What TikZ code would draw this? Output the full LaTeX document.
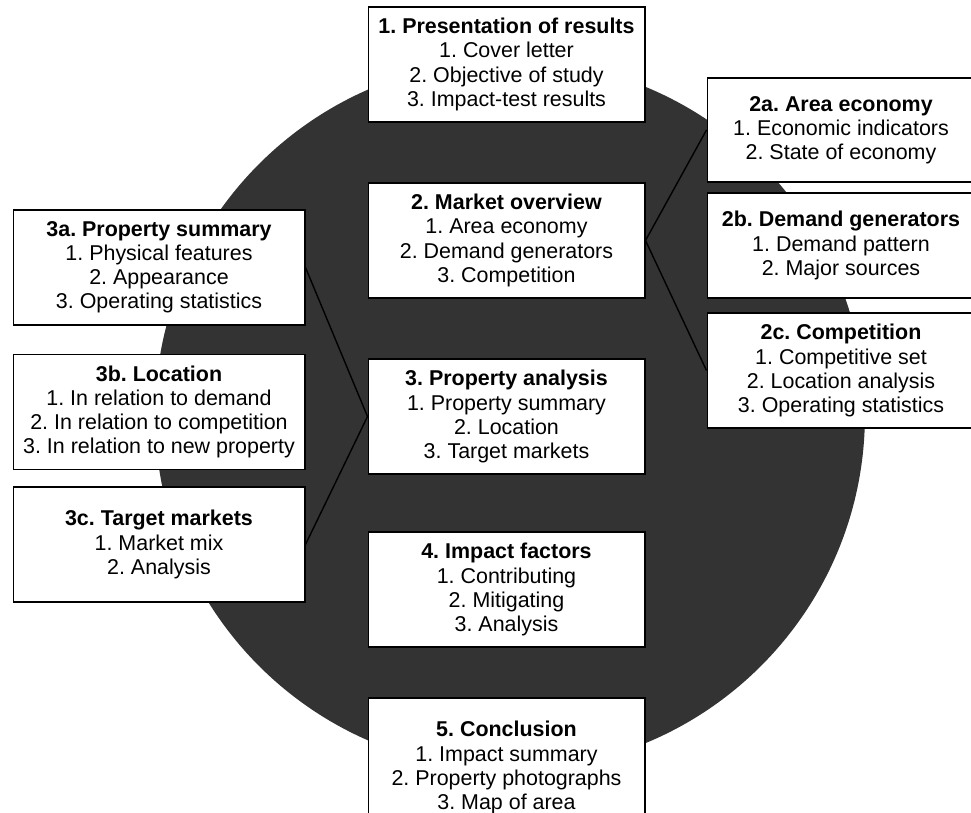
\documentclass[tikz,border=0pt]{standalone}
\usepackage{fontspec}
\setmainfont{Liberation Sans}
\usetikzlibrary{positioning}
\frenchspacing

\begin{document}
\begin{tikzpicture}[
  x=0.02cm, y=-0.02cm,
  box/.style={draw, fill=white, line width=0.6pt, align=center, inner sep=0pt,
    font=\fontsize{12.2}{13.7}\selectfont},
  midbox/.style={box, minimum width=5.54cm, minimum height=2.3cm},
  leftbox/.style={box, minimum width=5.84cm, minimum height=2.3cm},
  rightbox/.style={box, minimum width=5.36cm},
  link/.style={line width=0.8pt, black}
]
\useasboundingbox (0,0) rectangle (971,813);

% Dark disc behind the report outline
\fill[black!80] (510,415) circle [radius=7.1cm];

% Main sections (centre column)
\node[midbox] (pres) at (506.5,64.5)
  {\textbf{1. Presentation of results}\\1. Cover letter\\2. Objective of study\\3. Impact-test results};
\node[midbox] (market) at (506.5,240.5)
  {\textbf{2. Market overview}\\1. Area economy\\2. Demand generators\\3. Competition};
\node[midbox] (propan) at (506.5,416.5)
  {\textbf{3. Property analysis}\\1. Property summary\\2. Location\\3. Target markets};
\node[midbox] (impact) at (506.5,589.5)
  {\textbf{4. Impact factors}\\1. Contributing\\2. Mitigating\\3. Analysis};
\node[midbox, minimum height=2.78cm] (concl) at (506.5,767.5)
  {\textbf{5. Conclusion}\\1. Impact summary\\2. Property photographs\\3. Map of area};

% Market overview details (right column)
\node[rightbox, minimum height=2.08cm] (areaeco) at (841,130)
  {\textbf{2a. Area economy}\\1. Economic indicators\\2. State of economy};
\node[rightbox, minimum height=2.1cm] (demgen) at (841,245.5)
  {\textbf{2b. Demand generators}\\1. Demand pattern\\2. Major sources};
\node[rightbox, minimum height=2.3cm] (comp) at (841,370.5)
  {\textbf{2c. Competition}\\1. Competitive set\\2. Location analysis\\3. Operating statistics};

% Property analysis details (left column)
\node[leftbox] (propsum) at (159,267.5)
  {\textbf{3a. Property summary}\\1. Physical features\\2. Appearance\\3. Operating statistics};
\node[leftbox] (loc) at (159,412)
  {\textbf{3b. Location}\\1. In relation to demand\\2. In relation to competition\\3. In relation to new property};
\node[leftbox] (target) at (159,544.5)
  {\textbf{3c. Target markets}\\1. Market mix\\2. Analysis};

% Links from sections to their details
\draw[link] (areaeco.west) -- (market.east) -- (comp.west);
\draw[link] (propsum.east) -- (propan.west) -- (target.east);

\end{tikzpicture}
\end{document}
